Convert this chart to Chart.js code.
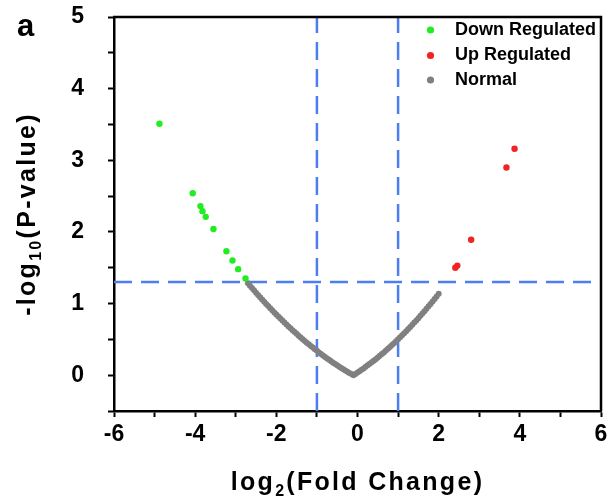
<!DOCTYPE html>
<html lang="en">
<head>
  <meta charset="UTF-8">
  <title>Volcano Plot</title>
  <script src="https://cdn.jsdelivr.net/npm/chart.js@4.4.0/dist/chart.umd.min.js"></script>
  <style>
    html, body { margin: 0; padding: 0; background: #fff; }
  </style>
</head>
<body>
  <canvas id="volcano" width="610" height="501"></canvas>

  <script>
    // log2 fold change / -log10 p for each group
    const downFC = [-4.88, -4.06, -3.87, -3.82, -3.74, -3.55, -3.23, -3.08, -2.94, -2.76];
    const downP  = [3.51, 2.54, 2.36, 2.29, 2.21, 2.04, 1.73, 1.60, 1.48, 1.35];

    const upFC = [2.41, 2.46, 2.80, 3.67, 3.87];
    const upP  = [1.50, 1.53, 1.89, 2.90, 3.16];

    const normalFC = [
      -2.70, -2.65, -2.60, -2.55, -2.50, -2.45, -2.40, -2.35, -2.30, -2.25,
      -2.20, -2.15, -2.10, -2.05, -2.00, -1.95, -1.90, -1.85, -1.80, -1.75,
      -1.70, -1.65, -1.60, -1.55, -1.50, -1.45, -1.40, -1.35, -1.30, -1.25,
      -1.20, -1.15, -1.10, -1.05, -1.00, -0.95, -0.90, -0.85, -0.80, -0.75,
      -0.70, -0.65, -0.60, -0.55, -0.50, -0.45, -0.40, -0.35, -0.30, -0.25,
      -0.20, -0.15, -0.10, -0.05, 0.00, 0.05, 0.10, 0.15, 0.20, 0.25,
      0.30, 0.35, 0.40, 0.45, 0.50, 0.55, 0.60, 0.65, 0.70, 0.75,
      0.80, 0.85, 0.90, 0.95, 1.00, 1.05, 1.10, 1.15, 1.20, 1.25,
      1.30, 1.35, 1.40, 1.45, 1.50, 1.55, 1.60, 1.65, 1.70, 1.75,
      1.80, 1.85, 1.90, 1.95, 2.00
    ];
    const normalP = [
      1.283, 1.250, 1.217, 1.184, 1.152, 1.120, 1.088, 1.057, 1.026, 0.995,
      0.965, 0.935, 0.905, 0.876, 0.847, 0.818, 0.790, 0.762, 0.735, 0.708,
      0.681, 0.654, 0.628, 0.602, 0.577, 0.552, 0.527, 0.502, 0.478, 0.454,
      0.431, 0.408, 0.385, 0.362, 0.340, 0.318, 0.297, 0.276, 0.255, 0.234,
      0.214, 0.194, 0.175, 0.156, 0.138, 0.119, 0.101, 0.083, 0.066, 0.049,
      0.032, 0.016, 0.000, 0.018, 0.037, 0.056, 0.075, 0.095, 0.116, 0.137,
      0.158, 0.179, 0.201, 0.224, 0.247, 0.270, 0.294, 0.318, 0.343, 0.368,
      0.394, 0.420, 0.446, 0.473, 0.500, 0.528, 0.556, 0.584, 0.613, 0.643,
      0.673, 0.703, 0.734, 0.765, 0.796, 0.828, 0.861, 0.894, 0.927, 0.961,
      0.995, 1.029, 1.064, 1.100, 1.136
    ];

    // cut-offs: |log2 FC| = 1, p = 0.05
    const fcCutoffs = [-1, 1];
    const pCutoff = 1.301;

    const xRange = [-6, 6];
    const yRange = [-0.5, 5];

    const FONT = "'Liberation Sans', Arial, sans-serif";
    const BLUE = '#4d7ef0';

    const pts = (xs, ys) => xs.map((x, i) => ({ x: x, y: ys[i] }));

    const dashed = (data) => ({
      data: data,
      showLine: true,
      pointRadius: 0,
      borderColor: BLUE,
      borderWidth: 2.5,
      borderDash: [18, 9],
      order: 10,
      isGuide: true
    });

    const decorations = {
      id: 'decorations',
      afterDraw(chart) {
        const ctx = chart.ctx;
        const a = chart.chartArea;
        ctx.save();

        // top + right frame
        ctx.strokeStyle = '#000';
        ctx.lineWidth = 2.5;
        ctx.beginPath();
        ctx.moveTo(a.left - 1, a.top);
        ctx.lineTo(a.right, a.top);
        ctx.lineTo(a.right, a.bottom);
        ctx.stroke();

        // panel letter
        ctx.fillStyle = '#000';
        ctx.textAlign = 'left';
        ctx.textBaseline = 'alphabetic';
        ctx.font = 'bold 31px ' + FONT;
        ctx.fillText('a', 17, 36);

        // axis titles with subscripts
        const drawTitle = (parts, cx, baseY) => {
          ctx.letterSpacing = '2.3px';
          const widths = parts.map(p => {
            ctx.font = (p[1] ? 'bold 16px ' : 'bold 25px ') + FONT;
            return ctx.measureText(p[0]).width;
          });
          let x = cx - widths.reduce((s, w) => s + w, 0) / 2;
          parts.forEach((p, i) => {
            ctx.font = (p[1] ? 'bold 16px ' : 'bold 25px ') + FONT;
            ctx.fillText(p[0], x, p[1] ? baseY + 6 : baseY);
            x += widths[i];
          });
          ctx.letterSpacing = '0px';
        };
        drawTitle([['log', false], ['2', true], ['(Fold Change)', false]], (a.left + a.right) / 2, 490);

        ctx.save();
        ctx.translate(35, (a.top + a.bottom) / 2);
        ctx.rotate(-Math.PI / 2);
        drawTitle([['-log', false], ['10', true], ['(P-value)', false]], 0, 0);
        ctx.restore();

        // legend inside the plot
        ctx.font = 'bold 18px ' + FONT;
        ctx.textBaseline = 'middle';
        const rows = [30, 55.5, 80];
        chart.data.datasets.filter(d => !d.isGuide).forEach((d, i) => {
          ctx.fillStyle = d.backgroundColor;
          ctx.beginPath();
          ctx.arc(430.5, rows[i], 3.6, 0, Math.PI * 2);
          ctx.fill();
          ctx.fillStyle = '#000';
          ctx.fillText(d.label, 455, rows[i]);
        });

        ctx.restore();
      }
    };

    // fixed box sizes so the plot area lands where the original one is
    const fixBox = (w, h) => s => {
      if (w) s.width = w;
      if (h) s.height = h;
      s.paddingTop = 0;
      s.paddingBottom = 0;
      s.paddingLeft = 0;
      s.paddingRight = 0;
    };

    new Chart(document.getElementById('volcano'), {
      type: 'scatter',
      data: {
        datasets: [
          {
            label: 'Down Regulated',
            data: pts(downFC, downP),
            backgroundColor: '#22ec22',
            pointRadius: 3.2,
            pointBorderWidth: 0,
            order: 1
          },
          {
            label: 'Up Regulated',
            data: pts(upFC, upP),
            backgroundColor: '#f02424',
            pointRadius: 3.2,
            pointBorderWidth: 0,
            order: 1
          },
          {
            label: 'Normal',
            data: pts(normalFC, normalP),
            backgroundColor: '#808080',
            pointRadius: 3,
            pointBorderWidth: 0,
            order: 2
          },
          dashed([{ x: fcCutoffs[0], y: yRange[0] }, { x: fcCutoffs[0], y: yRange[1] }]),
          dashed([{ x: fcCutoffs[1], y: yRange[0] }, { x: fcCutoffs[1], y: yRange[1] }]),
          dashed([{ x: xRange[0], y: pCutoff }, { x: xRange[1], y: pCutoff }])
        ]
      },
      options: {
        responsive: false,
        animation: false,
        layout: { padding: { top: 17, right: 9, left: 0, bottom: 0 } },
        plugins: {
          legend: { display: false },
          tooltip: { enabled: false }
        },
        scales: {
          x: {
            min: xRange[0],
            max: xRange[1],
            afterFit: fixBox(0, 90),
            grid: { drawOnChartArea: false, tickLength: 6, tickWidth: 2, tickColor: '#000' },
            border: { color: '#000', width: 2.5 },
            ticks: {
              stepSize: 1,
              autoSkip: false,
              maxRotation: 0,
              padding: 4,
              color: '#000',
              font: { family: FONT, size: 23, weight: 'bold' },
              callback: v => (v % 2 === 0 ? v : '')
            }
          },
          y: {
            min: yRange[0],
            max: yRange[1],
            afterFit: fixBox(114, 0),
            grid: { drawOnChartArea: false, tickLength: 6, tickWidth: 2, tickColor: '#000' },
            border: { color: '#000', width: 2.5 },
            ticks: {
              stepSize: 0.5,
              autoSkip: false,
              padding: 24,
              color: '#000',
              font: { family: FONT, size: 23, weight: 'bold' },
              callback: v => (Number.isInteger(v) && v >= 0 ? v : '')
            }
          }
        }
      },
      plugins: [decorations]
    });
  </script>
</body>
</html>
